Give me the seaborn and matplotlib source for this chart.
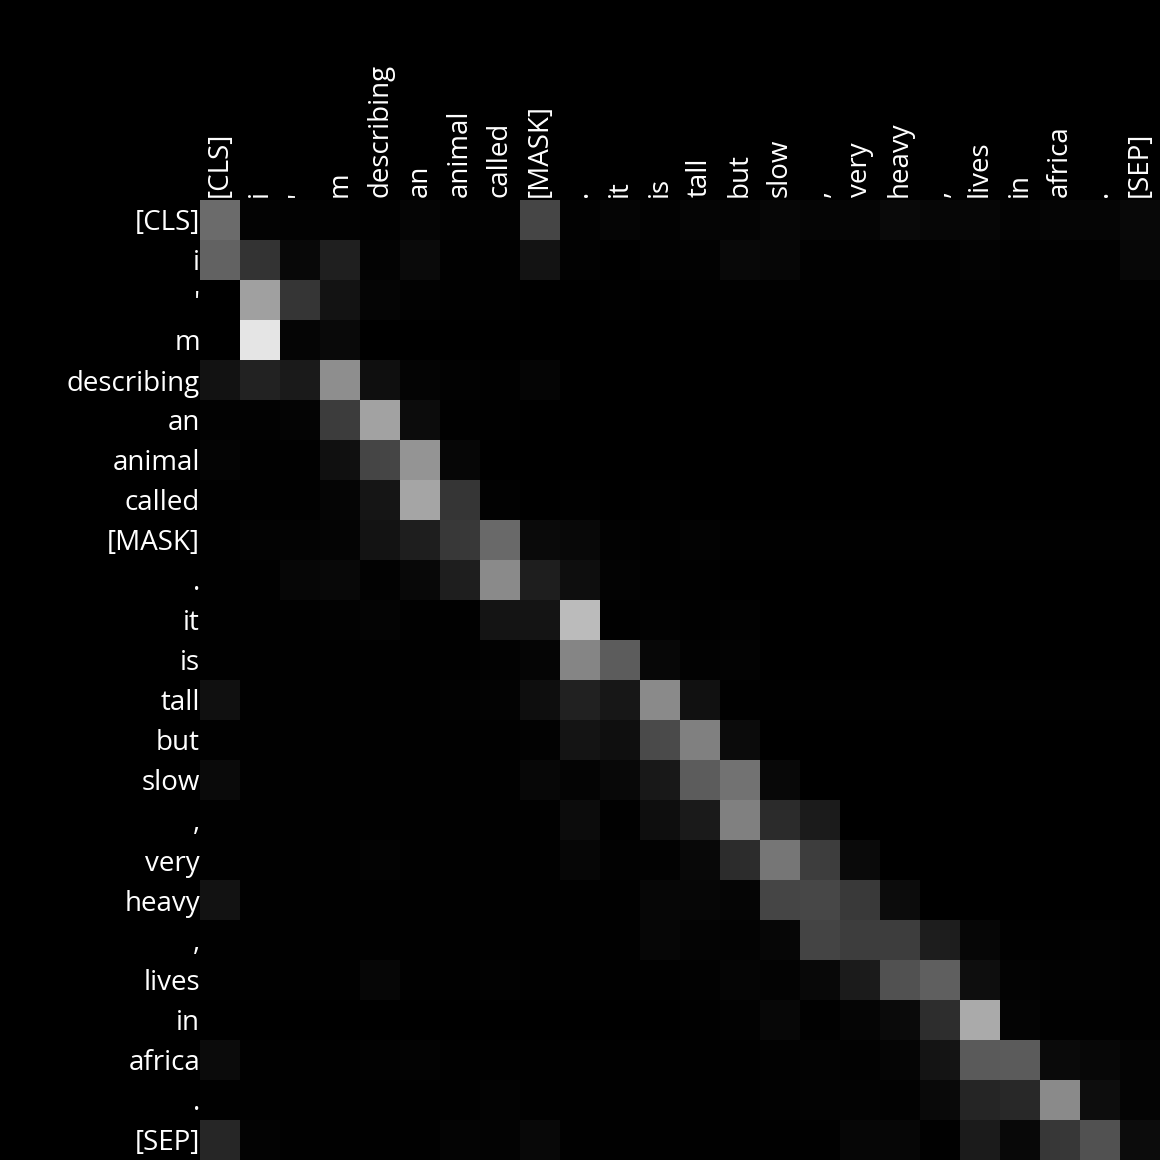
import numpy as np
import pandas as pd
import seaborn as sns
import matplotlib
matplotlib.use("Agg")
import matplotlib.pyplot as plt

tokens = ["[CLS]", "i", "'", "m", "describing", "an", "animal", "called",
          "[MASK]", ".", "it", "is", "tall", "but", "slow", ",", "very",
          "heavy", ",", "lives", "in", "africa", ".", "[SEP]"]

# attention weights (0-255)
attention = [
    [107, 3, 2, 2, 1, 5, 2, 2, 69, 2, 5, 2, 5, 4, 6, 5, 5, 9, 6, 6, 3, 5, 5, 8],
    [98, 51, 8, 31, 3, 10, 1, 1, 19, 2, 0, 2, 2, 8, 6, 1, 1, 1, 1, 3, 1, 1, 1, 7],
    [0, 160, 53, 19, 5, 2, 1, 1, 0, 0, 1, 0, 1, 1, 1, 1, 1, 1, 1, 1, 1, 1, 1, 1],
    [0, 229, 5, 9, 0, 0, 0, 0, 0, 0, 0, 0, 0, 0, 0, 0, 0, 0, 0, 0, 0, 0, 0, 0],
    [18, 34, 26, 142, 15, 4, 2, 1, 5, 0, 0, 0, 0, 0, 0, 0, 0, 0, 0, 0, 0, 0, 0, 0],
    [2, 2, 4, 60, 162, 12, 1, 1, 0, 0, 0, 0, 0, 0, 0, 0, 0, 0, 0, 0, 0, 0, 0, 0],
    [4, 1, 1, 16, 69, 148, 6, 0, 0, 0, 0, 0, 0, 0, 0, 0, 0, 0, 0, 0, 0, 0, 0, 0],
    [1, 1, 1, 5, 21, 165, 53, 2, 0, 1, 0, 1, 0, 0, 0, 0, 0, 0, 0, 0, 0, 0, 0, 0],
    [1, 3, 3, 4, 19, 30, 56, 105, 10, 8, 2, 1, 3, 1, 1, 1, 1, 1, 1, 1, 1, 1, 1, 1],
    [1, 1, 6, 8, 2, 8, 30, 138, 30, 14, 3, 1, 1, 0, 0, 0, 0, 0, 0, 0, 0, 0, 0, 0],
    [1, 1, 1, 2, 4, 1, 1, 20, 20, 187, 1, 2, 1, 2, 0, 0, 0, 0, 0, 0, 0, 0, 0, 0],
    [1, 1, 1, 1, 1, 1, 1, 2, 5, 133, 92, 7, 2, 3, 0, 0, 0, 0, 0, 0, 0, 0, 0, 0],
    [16, 1, 1, 1, 1, 1, 2, 3, 14, 33, 23, 138, 17, 1, 1, 1, 1, 1, 1, 1, 1, 1, 1, 1],
    [1, 1, 1, 1, 1, 1, 1, 1, 2, 20, 15, 74, 128, 11, 0, 0, 0, 0, 0, 0, 0, 0, 0, 0],
    [10, 1, 1, 1, 1, 1, 1, 1, 7, 4, 8, 24, 92, 114, 8, 0, 0, 0, 0, 0, 0, 0, 0, 0],
    [1, 1, 1, 1, 1, 1, 1, 1, 1, 12, 1, 14, 26, 128, 43, 27, 0, 0, 0, 0, 0, 0, 0, 0],
    [1, 1, 1, 1, 3, 1, 1, 1, 1, 6, 2, 2, 8, 44, 118, 61, 10, 0, 0, 0, 0, 0, 0, 0],
    [18, 1, 1, 1, 1, 1, 1, 1, 1, 1, 1, 6, 6, 5, 69, 71, 57, 12, 0, 0, 0, 0, 0, 0],
    [1, 1, 1, 1, 1, 1, 1, 1, 1, 1, 1, 6, 4, 3, 6, 68, 61, 61, 29, 6, 1, 1, 2, 1],
    [1, 1, 1, 1, 6, 1, 1, 2, 1, 1, 1, 1, 2, 5, 3, 8, 27, 81, 95, 14, 3, 2, 2, 1],
    [0, 0, 0, 0, 0, 0, 0, 0, 0, 0, 0, 0, 1, 2, 7, 1, 5, 10, 45, 170, 4, 1, 1, 1],
    [11, 1, 1, 1, 2, 3, 1, 1, 1, 1, 1, 1, 1, 1, 2, 3, 2, 5, 20, 90, 91, 10, 7, 4],
    [1, 1, 1, 1, 1, 1, 1, 3, 1, 1, 1, 1, 1, 1, 2, 3, 3, 2, 9, 37, 40, 138, 13, 4],
    [38, 3, 1, 1, 1, 1, 4, 3, 8, 1, 1, 1, 1, 1, 1, 1, 6, 6, 1, 27, 8, 55, 81, 12],
]

df = pd.DataFrame(np.array(attention) / 255.0, index=tokens, columns=tokens)

plt.rcParams['font.family'] = ['Open Sans', 'DejaVu Sans']
fig = plt.figure(figsize=(11.6, 11.6), dpi=100, facecolor='black')
ax = fig.add_axes([200 / 1160, 0, 960 / 1160, 960 / 1160])
sns.heatmap(df, ax=ax, cmap='gray', vmin=0, vmax=1, cbar=False,
            xticklabels=tokens, yticklabels=tokens, square=True)
ax.set_facecolor('black')
ax.xaxis.tick_top()
ax.tick_params(axis='both', length=0, colors='white', labelsize=20)
ax.tick_params(axis='x', pad=2)
ax.tick_params(axis='y', pad=0)
plt.setp(ax.get_xticklabels(), rotation=90, ha='center', va='bottom')
plt.setp(ax.get_yticklabels(), rotation=0, ha='right', va='center_baseline')
ax.set_xlabel("")
ax.set_ylabel("")

fig.savefig('out.png', dpi=100, facecolor='black')
